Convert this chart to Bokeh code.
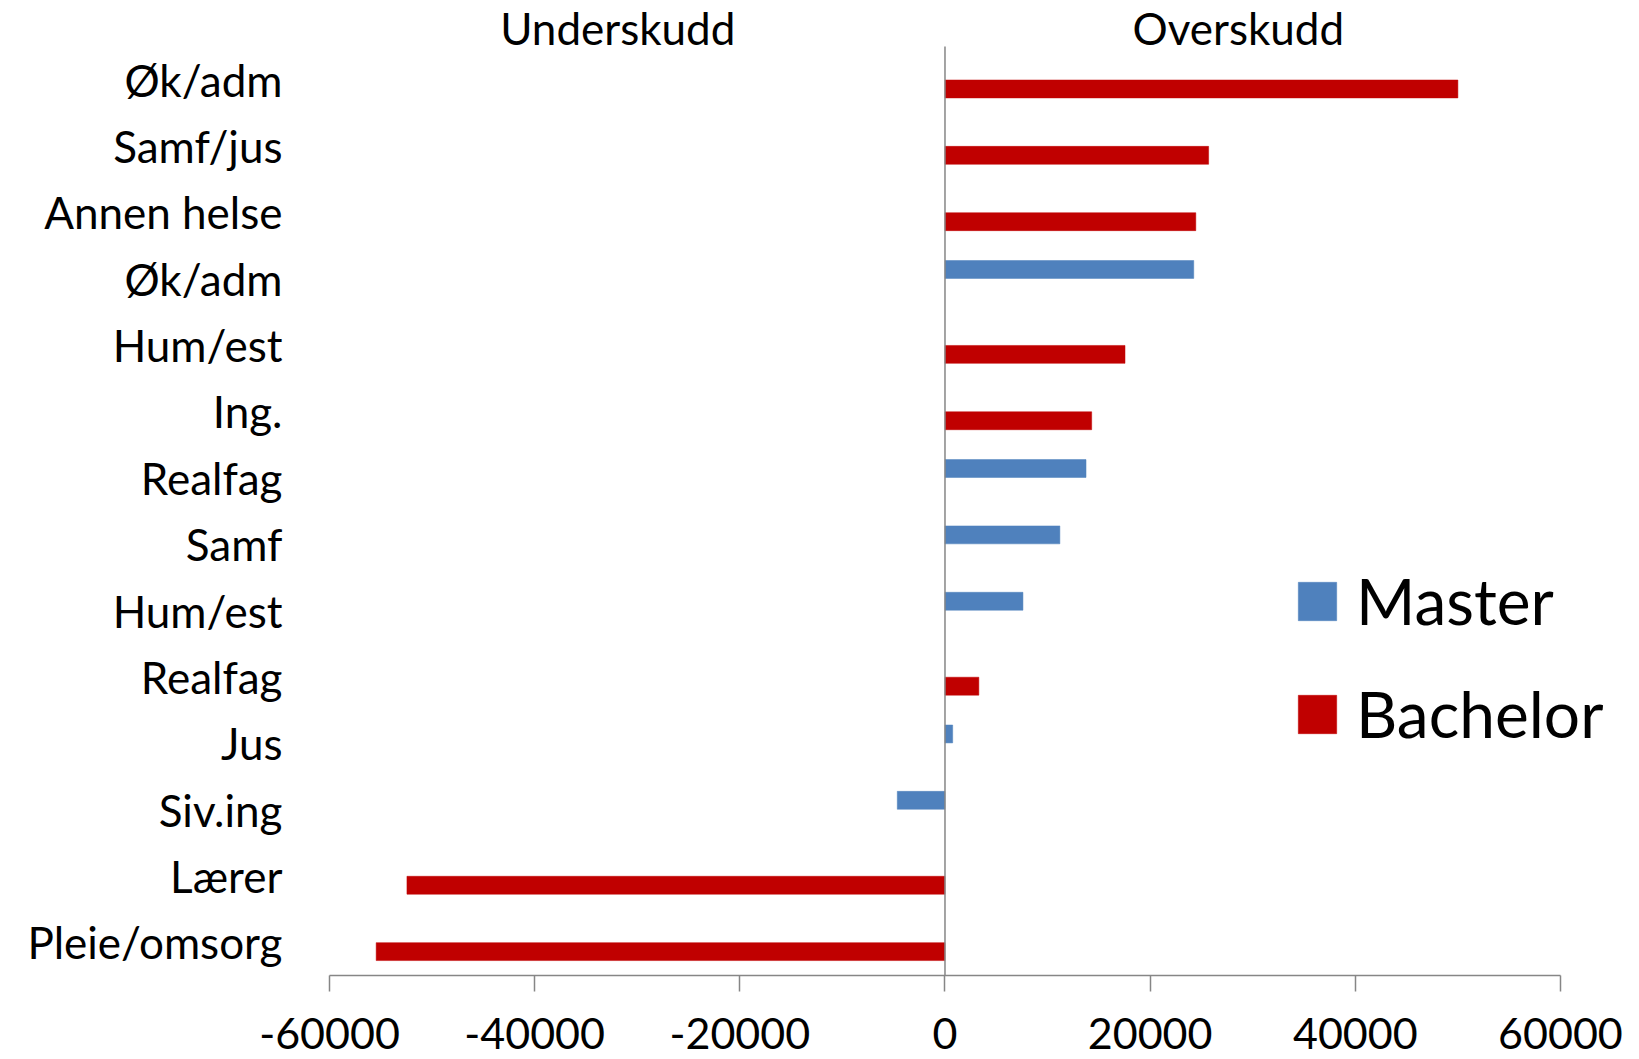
from bokeh.plotting import figure
from bokeh.models import Range1d, FixedTicker, ColumnDataSource, Legend, LegendItem, Label
from bokeh.embed import file_html
from bokeh.resources import INLINE

# ---- data ----
categories = ["Øk/adm", "Samf/jus", "Annen helse", "Øk/adm", "Hum/est", "Ing.", "Realfag",
              "Samf", "Hum/est", "Realfag", "Jus", "Siv.ing", "Lærer", "Pleie/omsorg"]
series = ["Bachelor", "Bachelor", "Bachelor", "Master", "Bachelor", "Bachelor", "Master",
          "Master", "Master", "Bachelor", "Master", "Master", "Bachelor", "Bachelor"]
values = [50000, 25700, 24450, 24250, 17550, 14300, 13750,
          11200, 7600, 3300, 750, -4650, -52450, -55450]
series_names = ["Master", "Bachelor"]
series_colors = ["#4F81BD", "#C00000"]
x_ticks = [-60000, -40000, -20000, 0, 20000, 40000, 60000]
side_titles = ["Underskudd", "Overskudd"]
side_title_x = [-31900, 28600]

# ---- layout ----
W, H = 1639, 1059
b_left, b_right, b_top, b_bottom = 329, 18, 0, 84
band_top_px = 46
n = len(categories)
frame_h = H - b_top - b_bottom
band_px = (frame_h - band_top_px) / n
y_end = -0.5 - band_top_px / band_px
FONT = "Lato"

p = figure(width=W, height=H,
           x_range=Range1d(-60000, 65950), y_range=Range1d(n - 0.5, y_end),
           output_backend="svg", toolbar_location=None,
           min_border_left=b_left, min_border_right=b_right,
           min_border_top=b_top, min_border_bottom=b_bottom)
p.outline_line_color = None
p.xgrid.visible = False
p.ygrid.visible = False

offsets = {"Master": -0.14, "Bachelor": 0.14}
items = []
for name, color in zip(series_names, series_colors):
    idx = [i for i, s in enumerate(series) if s == name]
    src = ColumnDataSource(dict(y=[i + offsets[name] for i in idx],
                                right=[values[i] for i in idx]))
    r = p.hbar(y="y", right="right", left=0, height=0.27, source=src,
               fill_color=color, line_color=color, line_width=0.5)
    items.append(LegendItem(label=name, renderers=[r]))

# zero line
p.segment(x0=[0], y0=[-0.5], x1=[0], y1=[n - 0.5], line_color="#868686", line_width=1.5)

# x axis
xa = p.xaxis[0]
xa.ticker = FixedTicker(ticks=x_ticks)
xa.major_label_overrides = {t: str(t) for t in x_ticks}
xa.bounds = (x_ticks[0], x_ticks[-1])
xa.axis_line_color = "#868686"
xa.axis_line_width = 1.5
xa.major_tick_line_color = "#868686"
xa.major_tick_line_width = 1.5
xa.major_tick_out = 16
xa.major_tick_in = 0
xa.minor_tick_line_color = None
xa.major_label_text_font = FONT
xa.major_label_text_font_size = "43px"
xa.major_label_text_color = "black"
xa.major_label_text_line_height = 0.9
xa.major_label_standoff = 26

# y axis
ya = p.yaxis[0]
ya.ticker = FixedTicker(ticks=list(range(n)))
ya.major_label_overrides = {i: c for i, c in enumerate(categories)}
ya.axis_line_color = None
ya.major_tick_line_color = None
ya.minor_tick_line_color = None
ya.major_tick_out = 0
ya.major_tick_in = 0
ya.major_label_standoff = 47
ya.major_label_text_font = FONT
ya.major_label_text_font_size = "44px"
ya.major_label_text_color = "black"

# side titles
for t, tx in zip(side_titles, side_title_x):
    p.add_layout(Label(x=tx, y=y_end + 27 / band_px, text=t, text_font=FONT,
                       text_font_size="44px", text_color="black",
                       text_align="center", text_baseline="middle"))

legend = Legend(items=items, location=(964, 223), orientation="vertical",
                glyph_width=48, glyph_height=48, label_standoff=15,
                label_text_font=FONT, label_text_font_size="64px",
                label_text_color="black", spacing=36, padding=0, margin=0,
                border_line_color=None, background_fill_alpha=0)
p.add_layout(legend)

open("out.html", "w").write(file_html(p, INLINE))
